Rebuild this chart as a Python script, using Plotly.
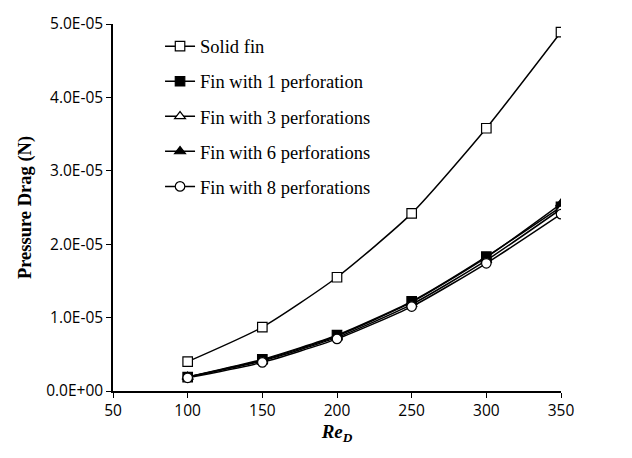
import plotly.graph_objects as go

re_d = [100, 150, 200, 250, 300, 350]
solid_fin = [4.0e-6, 8.7e-6, 1.55e-5, 2.42e-5, 3.58e-5, 4.89e-5]
perf_1 = [1.9e-6, 4.3e-6, 7.6e-6, 1.22e-5, 1.83e-5, 2.51e-5]
perf_3 = [1.9e-6, 4.1e-6, 7.3e-6, 1.18e-5, 1.78e-5, 2.48e-5]
perf_6 = [1.9e-6, 4.2e-6, 7.5e-6, 1.21e-5, 1.82e-5, 2.55e-5]
perf_8 = [1.8e-6, 3.9e-6, 7.1e-6, 1.15e-5, 1.74e-5, 2.41e-5]

series_names = ["Solid fin", "Fin with 1 perforation", "Fin with 3 perforations",
                "Fin with 6 perforations", "Fin with 8 perforations"]
series_values = [solid_fin, perf_1, perf_3, perf_6, perf_8]
symbols = ["square", "square", "triangle-up", "triangle-up", "circle"]
fills = ["white", "black", "white", "black", "white"]

y_tick_vals = [0, 1e-5, 2e-5, 3e-5, 4e-5, 5e-5]
y_tick_text = ["0.0E+00", "1.0E-05", "2.0E-05", "3.0E-05", "4.0E-05", "5.0E-05"]
x_tick_vals = [50, 100, 150, 200, 250, 300, 350]

fig = go.Figure()
for i, (name, vals, sym, fill) in enumerate(zip(series_names, series_values, symbols, fills)):
    fig.add_trace(go.Scatter(
        x=re_d, y=vals, name=name, mode="lines+markers",
        line=dict(color="black", width=1.5, shape="spline", smoothing=0.6),
        marker=dict(symbol=sym, size=9.5, color=fill,
                    line=dict(color="black", width=1.2)),
        legendgroup=f"g{i}",
    ))

fig.update_layout(
    width=632, height=458,
    margin=dict(l=113, r=71, t=14, b=67),
    plot_bgcolor="white", paper_bgcolor="white",
    showlegend=True,
    legend=dict(x=0.105, y=0.99, xanchor="left", yanchor="top",
                font=dict(family="Liberation Serif", size=18.5, color="black"),
                tracegroupgap=8, bgcolor="rgba(0,0,0,0)", itemwidth=30),
    xaxis=dict(range=[50, 350], tickvals=x_tick_vals, ticks="outside", ticklen=5,
               tickcolor="black", showline=True, linecolor="black", linewidth=1.5,
               showgrid=False, zeroline=False,
               tickfont=dict(family="Open Sans", size=15.5, color="black"),
               title=dict(text="<b><i>Re<sub>D</sub></i></b>", standoff=4,
                          font=dict(family="Liberation Serif", size=19, color="black"))),
    yaxis=dict(range=[0, 5e-5], tickvals=y_tick_vals, ticktext=y_tick_text, ticks="outside",
               ticklen=5, tickcolor="black", showline=True, linecolor="black", linewidth=1.5,
               showgrid=False, zeroline=False,
               tickfont=dict(family="Open Sans", size=15.5, color="black"),
               title=dict(text="<b>Pressure Drag (N)</b>", standoff=10,
                          font=dict(family="Liberation Serif", size=18.5, color="black"))),
)

fig.write_html("out.html")
